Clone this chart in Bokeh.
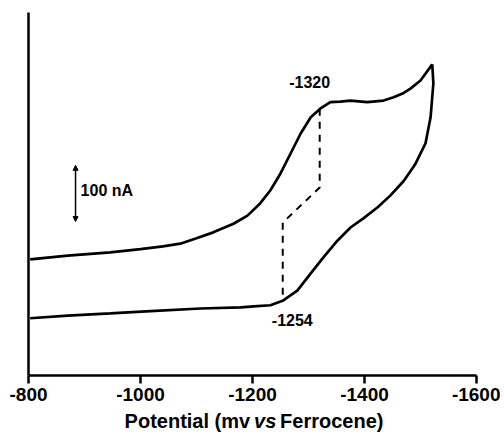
from bokeh.plotting import figure
from bokeh.models import Range1d, FixedTicker, Label, Arrow, NormalHead, CustomJSTickFormatter
from bokeh.layouts import column
from bokeh.core.properties import value
from bokeh.embed import file_html
from bokeh.resources import INLINE

# Forward scan (upper branch), potential in mV vs Fc, current in nA (offset)
fwd_E = [-803, -870, -946, -1000, -1040, -1071, -1100, -1130, -1166, -1191, -1214,
         -1232, -1250, -1268, -1286, -1304, -1321, -1339, -1357, -1375, -1405,
         -1434, -1452, -1468, -1482, -1500, -1521]
fwd_I = [215, 222, 228, 234, 239, 244, 254, 265, 281, 296, 319,
         343, 374, 411, 448, 478, 494, 506, 507, 509, 506,
         509, 515, 522, 531, 546, 576]

# Reverse scan (lower branch)
rev_E = [-1521, -1523, -1518, -1509, -1490, -1470, -1446, -1423, -1398, -1375,
         -1352, -1327, -1304, -1280, -1255, -1232, -1202, -1179, -1107, -1018,
         -946, -870, -803]
rev_I = [576, 541, 478, 430, 390, 360, 333, 311, 291, 274,
         250, 219, 189, 157, 139, 130, 128, 126, 124, 119,
         115, 111, 106]

# Dashed peak-marker path
dash_E = [-1320, -1320, -1254, -1254]
dash_I = [494, 348, 283, 139]

x_ticks = [-800, -1000, -1200, -1400, -1600]
peak_labels = ["-1320", "-1254"]
peak_label_E = [-1302, -1271]
peak_label_I = [544, 102]
axis_title = ["Potential (mv", "vs", "Ferrocene)"]

FONT = "Liberation Sans"

p = figure(width=500, height=409, output_backend="svg", toolbar_location=None,
           x_range=Range1d(-800, -1600), y_range=Range1d(0, 672),
           min_border_left=28, min_border_right=24, min_border_top=12,
           min_border_bottom=34)
p.grid.visible = False
p.outline_line_color = None
p.background_fill_color = "white"
p.border_fill_color = "white"

p.line(fwd_E, fwd_I, line_color="black", line_width=2.7)
p.line(rev_E, rev_I, line_color="black", line_width=2.7)
p.line(dash_E, dash_I, line_color="black", line_width=2, line_dash="7 6")

# x axis
xa = p.xaxis[0]
xa.ticker = FixedTicker(ticks=x_ticks)
xa.formatter = CustomJSTickFormatter(code="return tick.toFixed(0);")
xa.axis_line_width = 2.5
xa.major_tick_line_width = 2.5
xa.major_tick_out = 8
xa.major_tick_in = 0
xa.minor_tick_line_color = None
xa.major_label_text_font = FONT
xa.major_label_text_font_style = "bold"
xa.major_label_text_font_size = "19px"
xa.major_label_text_color = "black"
xa.major_label_standoff = 4
xa.axis_line_color = "black"
xa.major_tick_line_color = "black"

# y axis: bare line
ya = p.yaxis[0]
ya.ticker = FixedTicker(ticks=[])
ya.axis_line_width = 2.5
ya.axis_line_color = "black"
ya.major_tick_line_color = None
ya.minor_tick_line_color = None
ya.major_label_text_font_size = "0px"

for t_, e, i in zip(peak_labels, peak_label_E, peak_label_I):
    p.add_layout(Label(x=e, y=i, text=t_, text_align="center", text_baseline="middle",
                       text_font=FONT, text_font_style="bold", text_font_size="16px",
                       text_color="black"))

# Scale bar
p.add_layout(Arrow(x_start=-884, y_start=285, x_end=-884, y_end=389,
                   line_width=1.5, line_color="black",
                   start=NormalHead(size=5, fill_color="black", line_color="black"),
                   end=NormalHead(size=5, fill_color="black", line_color="black")))
p.add_layout(Label(x=-893, y=343, text="100 nA", text_align="left", text_baseline="middle",
                   text_font=FONT, text_font_style="bold", text_font_size="16px",
                   text_color="black"))

# Axis title strip (mixed bold / bold-italic)
t = figure(width=500, height=28, output_backend="svg", toolbar_location=None,
           x_range=Range1d(0, 500), y_range=Range1d(0, 28),
           min_border=0, min_border_left=0, min_border_right=0,
           min_border_top=0, min_border_bottom=0)
t.axis.visible = False
t.grid.visible = False
t.outline_line_color = None
t.background_fill_color = "white"
t.border_fill_color = "white"
t.text(x=[247.4], y=[17], text=[axis_title[0]], text_align="right", text_baseline="middle",
       text_font=value(FONT), text_font_style="bold", text_font_size="20px", text_color="black")
t.text(x=[264.1], y=[17], text=[axis_title[1]], text_align="center", text_baseline="middle",
       text_font=value(FONT), text_font_style="bold italic", text_font_size="20px", text_color="black")
t.text(x=[280.8], y=[17], text=[axis_title[2]], text_align="left", text_baseline="middle",
       text_font=value(FONT), text_font_style="bold", text_font_size="20px", text_color="black")

layout = column(p, t, spacing=0)
open("out.html", "w").write(file_html(layout, INLINE))
